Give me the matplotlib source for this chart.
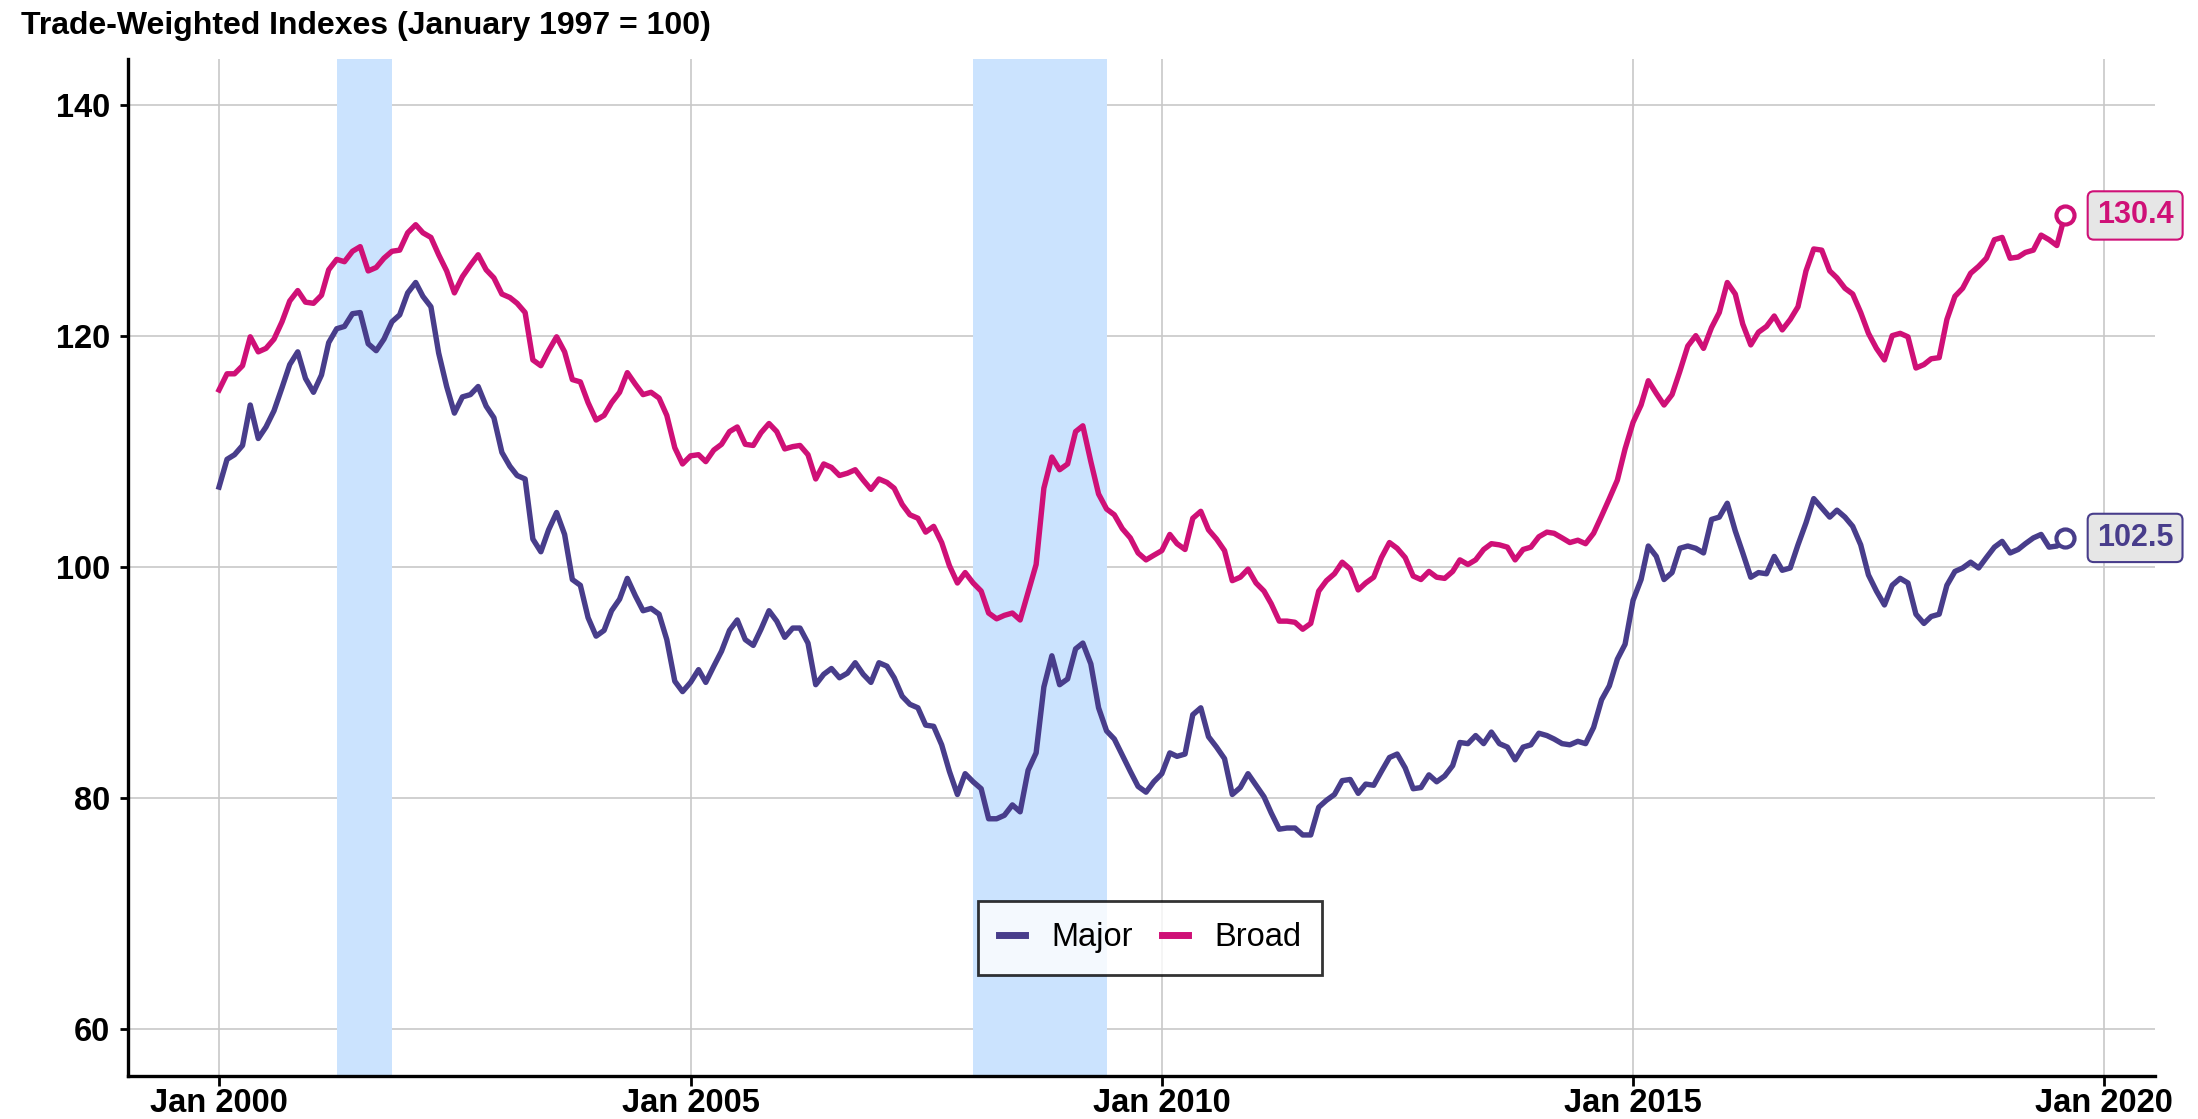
import matplotlib
matplotlib.use("Agg")
import matplotlib.pyplot as plt
import pandas as pd

# monthly values, Jan 2000 - Aug 2019 (January 1997 = 100)
major = [
    106.9, 109.3, 109.7, 110.5, 114.0, 111.1, 112.1, 113.5, 115.5, 117.5,
    118.6, 116.3, 115.1, 116.6, 119.4, 120.6, 120.8, 121.9, 122.0, 119.3,
    118.7, 119.7, 121.2, 121.8, 123.7, 124.6, 123.4, 122.5, 118.5, 115.6,
    113.3, 114.7, 114.9, 115.6, 113.9, 112.9, 109.9, 108.7, 107.9, 107.6,
    102.4, 101.3, 103.2, 104.7, 102.8, 98.9, 98.4, 95.6, 94.0, 94.5,
    96.2, 97.2, 99.0, 97.5, 96.2, 96.4, 95.9, 93.7, 90.1, 89.2,
    90.0, 91.1, 90.0, 91.4, 92.7, 94.5, 95.4, 93.7, 93.2, 94.6,
    96.2, 95.3, 93.9, 94.7, 94.7, 93.4, 89.8, 90.7, 91.2, 90.4,
    90.8, 91.7, 90.7, 90.0, 91.7, 91.4, 90.4, 88.8, 88.1, 87.8,
    86.3, 86.2, 84.6, 82.3, 80.3, 82.1, 81.4, 80.8, 78.2, 78.2,
    78.5, 79.4, 78.8, 82.4, 83.9, 89.6, 92.3, 89.8, 90.3, 92.9,
    93.4, 91.6, 87.8, 85.8, 85.1, 83.7, 82.3, 81.0, 80.5, 81.4,
    82.1, 83.9, 83.6, 83.8, 87.2, 87.8, 85.3, 84.4, 83.4, 80.3,
    80.9, 82.1, 81.1, 80.1, 78.7, 77.3, 77.4, 77.4, 76.8, 76.8,
    79.2, 79.8, 80.3, 81.5, 81.6, 80.4, 81.2, 81.1, 82.3, 83.5,
    83.8, 82.6, 80.8, 80.9, 82.0, 81.4, 81.9, 82.8, 84.8, 84.7,
    85.4, 84.7, 85.7, 84.7, 84.4, 83.3, 84.4, 84.6, 85.6, 85.4,
    85.1, 84.7, 84.6, 84.9, 84.7, 86.1, 88.5, 89.7, 92.0, 93.3,
    97.1, 98.9, 101.8, 100.9, 98.9, 99.5, 101.6, 101.8, 101.6, 101.2,
    104.1, 104.3, 105.5, 103.1, 101.2, 99.1, 99.5, 99.4, 100.9, 99.7,
    99.9, 101.9, 103.8, 105.9, 105.1, 104.3, 104.9, 104.3, 103.5, 101.9,
    99.3, 97.9, 96.7, 98.4, 99.0, 98.6, 95.9, 95.1, 95.7, 95.9,
    98.4, 99.6, 99.9, 100.4, 99.9, 100.8, 101.7, 102.2, 101.2, 101.5,
    102.0, 102.5, 102.8, 101.7, 101.8, 102.5,
]
broad = [
    115.3, 116.7, 116.7, 117.4, 119.9, 118.6, 118.9, 119.7, 121.2, 123.0,
    123.9, 122.9, 122.8, 123.5, 125.7, 126.6, 126.4, 127.3, 127.7, 125.6,
    125.9, 126.7, 127.3, 127.4, 128.9, 129.6, 128.9, 128.5, 127.0, 125.6,
    123.7, 125.1, 126.1, 127.0, 125.7, 125.0, 123.6, 123.3, 122.8, 122.0,
    117.9, 117.4, 118.7, 119.9, 118.6, 116.2, 116.0, 114.2, 112.7, 113.1,
    114.2, 115.1, 116.8, 115.8, 114.9, 115.1, 114.6, 113.1, 110.3, 108.9,
    109.6, 109.7, 109.1, 110.1, 110.6, 111.7, 112.1, 110.6, 110.5, 111.6,
    112.4, 111.7, 110.2, 110.4, 110.5, 109.7, 107.6, 108.9, 108.6, 107.9,
    108.1, 108.4, 107.5, 106.7, 107.6, 107.3, 106.8, 105.4, 104.5, 104.2,
    103.0, 103.5, 102.1, 100.1, 98.6, 99.5, 98.6, 97.9, 96.0, 95.5,
    95.8, 96.0, 95.4, 97.8, 100.2, 106.8, 109.5, 108.4, 108.9, 111.7,
    112.2, 109.1, 106.3, 105.0, 104.5, 103.3, 102.5, 101.2, 100.6, 101.0,
    101.4, 102.8, 102.0, 101.5, 104.2, 104.8, 103.2, 102.4, 101.4, 98.8,
    99.1, 99.8, 98.6, 97.9, 96.8, 95.3, 95.3, 95.2, 94.6, 95.1,
    97.9, 98.8, 99.4, 100.4, 99.8, 98.0, 98.6, 99.1, 100.8, 102.1,
    101.6, 100.8, 99.2, 98.9, 99.6, 99.1, 99.0, 99.6, 100.6, 100.2,
    100.6, 101.5, 102.0, 101.9, 101.7, 100.6, 101.5, 101.7, 102.6, 103.0,
    102.9, 102.5, 102.1, 102.3, 102.0, 102.9, 104.4, 105.9, 107.5, 110.2,
    112.5, 114.0, 116.1, 115.0, 114.0, 114.9, 116.9, 119.1, 120.0, 118.9,
    120.7, 122.0, 124.6, 123.6, 121.0, 119.2, 120.3, 120.8, 121.7, 120.5,
    121.4, 122.5, 125.6, 127.5, 127.4, 125.6, 125.0, 124.1, 123.6, 122.0,
    120.2, 118.9, 117.9, 120.0, 120.2, 119.9, 117.2, 117.5, 118.0, 118.1,
    121.4, 123.4, 124.1, 125.4, 126.0, 126.7, 128.3, 128.5, 126.7, 126.8,
    127.2, 127.4, 128.7, 128.3, 127.8, 130.4,
]
dates = pd.date_range("2000-01-01", periods=len(major), freq="MS")

recessions = [("2001-04-01", "2001-11-01"), ("2008-01-01", "2009-06-01")]
year_ticks = [2000, 2005, 2010, 2015, 2020]

col_major = "#483d8b"
col_broad = "#cf1077"

plt.rcParams["font.family"] = ["Liberation Sans", "DejaVu Sans"]

fig = plt.figure(figsize=(21.98, 11.19), dpi=100)
ax = fig.add_axes([0.0582, 0.0385, 0.9222, 0.9088])

for start, end in recessions:
    ax.axvspan(pd.Timestamp(start), pd.Timestamp(end), color="#cbe3fe", lw=0, zorder=1)

ax.plot(dates, major, color=col_major, lw=3.9, label="Major", zorder=3)
ax.plot(dates, broad, color=col_broad, lw=3.9, label="Broad", zorder=3)

# end markers and value labels
for vals, c in [(broad, col_broad), (major, col_major)]:
    ax.plot(dates[-1], vals[-1], "o", ms=13, mfc="white", mec=c, mew=3, zorder=4)
    ax.annotate(f"{vals[-1]:.1f}", (dates[-1], vals[-1]), xytext=(32, 0),
                textcoords="offset pixels", ha="left", va="center",
                fontsize=22, fontweight="bold", color=c, annotation_clip=False,
                bbox=dict(boxstyle="round,pad=0.3,rounding_size=0.2",
                          fc="#e6e6e6", ec=c, lw=1.5))

ax.set_xlim(pd.Timestamp("1999-01-13"), pd.Timestamp("2020-07-15"))
ax.set_ylim(55.95, 143.94)
ax.set_yticks([60, 80, 100, 120, 140])
ax.set_xticks([pd.Timestamp(f"{y}-01-01") for y in year_ticks])
ax.set_xticklabels([f"Jan {y}" for y in year_ticks])

ax.grid(True, color="#c8c8c8", lw=1.2, zorder=0)
ax.set_axisbelow(True)
for s in ["top", "right"]:
    ax.spines[s].set_visible(False)
for s in ["left", "bottom"]:
    ax.spines[s].set_linewidth(2.4)
    ax.spines[s].set_color("black")
ax.tick_params(axis="both", labelsize=23.5, width=2, color="black")
ax.tick_params(axis="x", length=7, pad=2)
ax.tick_params(axis="y", length=6, pad=7)
for lab in ax.get_xticklabels() + ax.get_yticklabels():
    lab.set_fontweight("bold")

fig.text(0.0095, 0.977, "Trade-Weighted Indexes (January 1997 = 100)",
         fontsize=23, fontweight="bold", ha="left", va="center")

leg = ax.legend(loc="center", bbox_to_anchor=(0.5232, 0.1618),
                bbox_transform=fig.transFigure, ncol=2, fontsize=23.5,
                frameon=True, fancybox=False, edgecolor="black",
                handlelength=0.8, handletextpad=0.8, columnspacing=0.9,
                borderpad=0.65, borderaxespad=0)
leg.get_frame().set_linewidth(2)
for h in leg.get_lines():
    h.set_linewidth(5)

fig.savefig("out.png", dpi=100)
